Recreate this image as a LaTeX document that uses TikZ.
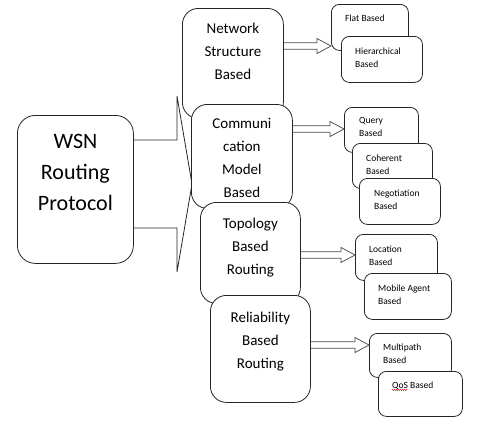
\documentclass[tikz,border=0pt]{standalone}
\usepackage{fontspec}
\setmainfont{Carlito}
\usetikzlibrary{calc,decorations.pathmorphing}
\newcommand\hollowarrow[3]{%
  \coordinate (#1-#2-s) at (#1.east |- 0,#3);
  \coordinate (#1-#2-t) at (#2.west |- 0,#3);
  \draw[arr] ($(#1-#2-s)+(0,-3.2)$) -- ($(#1-#2-t)+(-14,-3.2)$) -- ($(#1-#2-t)+(-14,-7.5)$)
     -- (#1-#2-t) -- ($(#1-#2-t)+(-14,7.5)$) -- ($(#1-#2-t)+(-14,3.2)$) -- ($(#1-#2-s)+(0,3.2)$);}
\begin{document}
\begin{tikzpicture}[x=1pt,y=-1pt,
  line/.style={draw=black!85, line width=0.8pt},
  mainbox/.style={line, fill=white, rounded corners=18pt, inner sep=0, anchor=north west},
  catbox/.style={line, fill=white, rounded corners=16pt, inner sep=0, anchor=north west},
  subbox/.style={line, fill=white, rounded corners=8pt, inner sep=0, anchor=north west},
  wsntext/.style={inner sep=0, anchor=north, align=center, font=\fontsize{22}{31}\selectfont},
  cattext/.style={inner sep=0, anchor=north, align=center, font=\fontsize{15}{23}\selectfont},
  subtext/.style={inner sep=0, anchor=north west, align=left, font=\fontsize{9.5}{13}\selectfont},
  arr/.style={draw=black!70, line width=0.75pt}]
\useasboundingbox (0,0) rectangle (495,423);

% main box
\node[mainbox, minimum width=116pt, minimum height=148pt] (wsn) at (17,115) {};
\node[wsntext] (wsnt) at (wsn.north |- 0,134.5) {WSN\\Routing\\Protocol};

% brace
\coordinate (br1) at (177,140);
\coordinate (br2) at (177,96);
\coordinate (br3) at (192,184);
\coordinate (br4) at (177,272);
\coordinate (br5) at (177,228);
\draw[line] (wsn.east |- br1) -- (br1) -- (br2) -- (br3) -- (br4) -- (br5) -- (wsn.east |- br5);

% category boxes
\node[catbox, minimum width=101pt, minimum height=110pt] (b1) at (182,8) {};
\node[cattext] (b1t) at (b1.north |- 0,22.5) {Network\\Structure\\Based};
\node[catbox, minimum width=101pt, minimum height=104pt] (b2) at (191,104) {};
\node[cattext] (b2t) at (b2.north |- 0,117.5) {Communi\\cation\\Model\\Based};
\node[catbox, minimum width=100pt, minimum height=101pt] (b3) at (200,202) {};
\node[cattext] (b3t) at (b3.north |- 0,217.5) {Topology\\Based\\Routing};
\node[catbox, minimum width=100pt, minimum height=107pt] (b4) at (210,295) {};
\node[cattext] (b4t) at (b4.north |- 0,311.5) {Reliability\\Based\\Routing};

% sub boxes
\node[subbox, minimum width=77pt, minimum height=46pt] (flat) at (331,4) {};
\node[subtext] (flatt) at ($(flat.north west)+(14,10.5)$) {Flat Based};
\node[subbox, minimum width=81pt, minimum height=46pt] (hier) at (341,36) {};
\node[subtext] (hiert) at ($(hier.north west)+(14,11.5)$) {Hierarchical\\Based};

\node[subbox, minimum width=74pt, minimum height=45pt] (query) at (344,107) {};
\node[subtext] (queryt) at ($(query.north west)+(15,10.5)$) {Query\\Based};
\node[subbox, minimum width=80pt, minimum height=45pt] (coh) at (352,143) {};
\node[subtext] (coht) at ($(coh.north west)+(14,11.5)$) {Coherent\\Based};
\node[subbox, minimum width=81pt, minimum height=46pt] (neg) at (359,178) {};
\node[subtext] (negt) at ($(neg.north west)+(15,11.5)$) {Negotiation\\Based};

\node[subbox, minimum width=82pt, minimum height=46pt] (loc) at (355,234) {};
\node[subtext] (loct) at ($(loc.north west)+(14,11.5)$) {Location\\Based};
\node[subbox, minimum width=87pt, minimum height=46pt] (mob) at (364,273) {};
\node[subtext] (mobt) at ($(mob.north west)+(14,11.5)$) {Mobile Agent\\Based};

\node[subbox, minimum width=82pt, minimum height=44pt] (multi) at (369,333) {};
\node[subtext] (multit) at ($(multi.north west)+(14,10.5)$) {Multipath\\Based};
\node[subbox, minimum width=84pt, minimum height=45pt] (qos) at (378,371) {};
\node[subtext] (qost) at ($(qos.north west)+(14,10.5)$) {QoS Based};
\draw[red, line width=0.4pt, decorate, decoration={snake, amplitude=0.6pt, segment length=2pt}]
  ($(qost.north west)+(0,8.5)$) -- ++(16,0);

% arrows
\hollowarrow{b1}{flat}{46}
\hollowarrow{b2}{query}{129}
\hollowarrow{b3}{loc}{255}
\hollowarrow{b4}{multi}{345}
\end{tikzpicture}
\end{document}
